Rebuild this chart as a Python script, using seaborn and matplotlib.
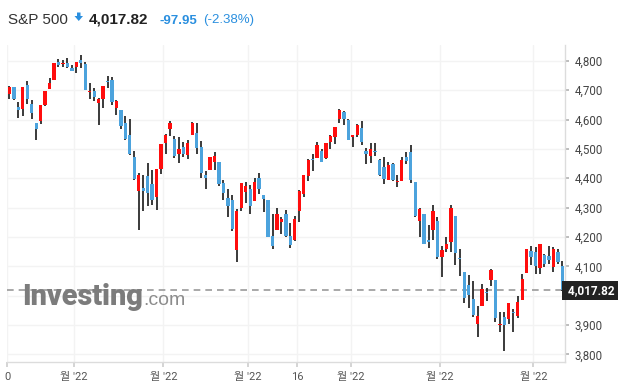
import seaborn as sns
import matplotlib.pyplot as plt
import matplotlib.transforms as mtransforms
from matplotlib.patches import Polygon
import pandas as pd

# S&P 500 daily candles, Dec 10 2021 - Jun 9 2022
holidays = ["2021-12-24", "2022-01-17", "2022-02-21", "2022-04-15", "2022-05-30"]
dates = pd.date_range("2021-12-10", "2022-06-09",
                      freq=pd.offsets.CustomBusinessDay(holidays=holidays))

opens = [
    4687.64, 4710.30, 4642.99, 4636.46, 4719.13, 4652.50, 4587.90, 4594.96, 4650.36, 4703.96, 4733.99, 4795.49, 4788.64, 4794.23, 4775.21,
    4778.14, 4804.51, 4787.99, 4693.39, 4697.66, 4655.34, 4669.14, 4728.59, 4733.56, 4637.99, 4632.24, 4588.03, 4547.35, 4471.38, 4356.32, 4366.64, 4408.43, 4380.58, 4336.19, 4431.79,
    4519.57, 4566.39, 4535.41, 4482.79, 4505.75, 4480.02, 4547.00, 4553.24, 4506.27, 4412.61, 4429.28, 4455.75, 4456.06, 4384.57, 4332.74, 4324.93, 4155.77, 4298.38, 4354.17,
    4363.14, 4322.56, 4401.31, 4342.12, 4327.01, 4202.66, 4223.10, 4252.55, 4279.50, 4202.75, 4188.82, 4288.14, 4345.11, 4407.34, 4462.40, 4469.10, 4493.10, 4469.98, 4522.91, 4541.09, 4602.86, 4624.20, 4599.02,
    4540.32, 4547.97, 4572.45, 4494.17, 4474.65, 4494.15, 4462.64, 4437.59, 4394.30, 4449.12, 4385.63, 4390.63, 4472.26, 4489.17, 4385.83, 4255.34, 4278.14, 4186.52, 4222.58, 4253.75,
    4130.61, 4159.78, 4181.18, 4270.43, 4128.17, 4081.27, 4035.18, 3990.08, 3903.95, 3963.90, 4013.02, 4052.00, 4051.98, 3899.00, 3927.76, 3919.42, 3942.94, 3929.59, 3984.60, 4077.43, 4151.09,
    4149.78, 4095.41, 4137.57, 4134.72, 4096.47, 4147.12, 4101.65,
]
highs = [
    4713.57, 4710.30, 4660.47, 4712.60, 4731.99, 4666.70, 4587.90, 4651.14, 4697.67, 4740.74, 4791.49, 4807.02, 4804.06, 4808.93, 4786.83,
    4796.64, 4818.62, 4797.70, 4725.01, 4707.95, 4673.02, 4714.13, 4748.83, 4744.13, 4665.13, 4632.24, 4611.55, 4602.11, 4494.52, 4417.35, 4411.01, 4453.23, 4428.74, 4432.72, 4516.89,
    4550.49, 4595.31, 4542.88, 4539.66, 4521.86, 4531.32, 4590.03, 4588.92, 4526.33, 4426.22, 4472.77, 4489.55, 4456.06, 4394.60, 4362.12, 4341.51, 4294.73, 4385.34, 4388.84,
    4378.45, 4401.48, 4416.78, 4342.12, 4327.01, 4276.94, 4299.40, 4268.28, 4291.01, 4247.57, 4271.05, 4358.90, 4412.67, 4465.40, 4481.75, 4522.00, 4501.07, 4520.58, 4546.03, 4575.65, 4637.30, 4627.77, 4603.07,
    4548.70, 4583.50, 4593.45, 4503.94, 4521.16, 4520.41, 4464.35, 4471.00, 4453.92, 4452.81, 4410.31, 4471.03, 4488.29, 4512.94, 4385.83, 4299.02, 4278.14, 4240.71, 4308.45, 4269.68,
    4169.81, 4200.10, 4307.66, 4270.43, 4157.69, 4081.27, 4068.82, 4049.09, 3964.80, 4038.88, 4026.97, 4090.72, 4051.98, 3945.96, 3943.42, 3975.02, 3955.68, 3999.33, 4075.14, 4158.49, 4168.34,
    4166.54, 4177.51, 4142.67, 4168.78, 4164.86, 4160.14, 4119.10,
]
lows = [
    4670.24, 4667.60, 4606.52, 4611.22, 4651.89, 4600.22, 4531.10, 4583.16, 4645.53, 4703.96, 4733.99, 4780.04, 4778.08, 4775.33, 4765.75,
    4758.17, 4774.27, 4699.44, 4671.26, 4662.74, 4582.24, 4638.27, 4706.71, 4650.29, 4614.75, 4568.70, 4530.20, 4477.95, 4395.34, 4222.62, 4287.11, 4304.80, 4309.50, 4292.46, 4414.02,
    4483.53, 4544.32, 4470.39, 4451.50, 4471.47, 4465.40, 4547.00, 4484.31, 4401.41, 4364.84, 4429.28, 4429.68, 4373.81, 4327.22, 4267.11, 4221.51, 4114.65, 4286.83, 4315.12,
    4279.54, 4322.56, 4345.56, 4284.98, 4199.85, 4157.87, 4223.10, 4209.80, 4200.49, 4161.72, 4187.90, 4251.99, 4335.65, 4390.57, 4424.30, 4469.10, 4455.81, 4465.17, 4501.07, 4517.69, 4589.66, 4581.32, 4530.41,
    4507.57, 4539.21, 4514.17, 4450.04, 4450.30, 4474.60, 4408.38, 4381.34, 4392.70, 4390.55, 4370.30, 4390.63, 4448.76, 4384.47, 4267.62, 4200.82, 4175.04, 4162.90, 4188.63, 4124.28,
    4062.51, 4147.08, 4148.91, 4106.01, 4067.91, 3975.48, 3958.17, 3928.82, 3858.87, 3963.90, 3982.24, 4033.93, 3911.91, 3876.58, 3810.32, 3901.82, 3875.13, 3925.03, 3984.60, 4077.43, 4104.88,
    4073.85, 4074.37, 4098.67, 4109.18, 4080.19, 4107.20, 4017.17,
]
closes = [
    4712.02, 4668.97, 4634.09, 4709.85, 4668.67, 4620.64, 4568.02, 4649.23, 4696.56, 4725.79, 4791.19, 4786.35, 4793.06, 4778.73, 4766.18,
    4796.56, 4793.54, 4700.58, 4696.05, 4677.03, 4670.29, 4713.07, 4726.35, 4659.03, 4662.85, 4577.11, 4532.76, 4482.73, 4397.94, 4410.13, 4356.45, 4349.93, 4326.51, 4431.85, 4515.55,
    4546.54, 4589.38, 4477.44, 4500.53, 4483.87, 4521.54, 4587.18, 4504.08, 4418.64, 4401.67, 4471.07, 4475.01, 4380.26, 4348.87, 4304.76, 4225.50, 4288.70, 4384.65, 4373.94,
    4306.26, 4386.54, 4363.49, 4328.87, 4201.09, 4170.70, 4277.88, 4259.52, 4204.31, 4173.11, 4262.45, 4357.86, 4411.67, 4463.12, 4461.18, 4511.61, 4456.24, 4520.16, 4543.06, 4575.52, 4631.60, 4602.45, 4530.41,
    4545.86, 4582.64, 4525.12, 4481.15, 4500.21, 4488.28, 4412.53, 4397.45, 4446.59, 4392.59, 4391.69, 4462.21, 4459.45, 4393.66, 4271.78, 4296.12, 4175.20, 4183.96, 4287.50, 4131.93,
    4155.38, 4175.48, 4300.17, 4146.87, 4123.34, 3991.24, 4001.05, 3935.18, 3930.08, 4023.89, 4008.01, 4088.85, 3923.68, 3900.79, 3901.36, 3973.75, 3941.48, 3978.73, 4057.84, 4158.24, 4132.15,
    4101.23, 4176.82, 4108.54, 4121.43, 4160.68, 4115.77, 4017.82,
]

tick_dates = ["2021-12-10", "2022-01-03", "2022-02-01", "2022-03-01", "2022-03-16",
              "2022-04-01", "2022-05-02", "2022-06-01"]
tick_labels = ["0", "월 '22", "월 '22", "월 '22", "16", "월 '22", "월 '22", "월 '22"]
y_ticks = [3800, 3900, 4000, 4100, 4200, 4300, 4400, 4500, 4600, 4700, 4800]

last_price = "4,017.82"
change = "-97.95"
change_pct = "(-2.38%)"

df = pd.DataFrame({"date": dates, "open": opens, "high": highs, "low": lows, "close": closes})
df["i"] = range(len(df))
df["up"] = df["close"] >= df["open"]

UP = "#ff0d0d"
DOWN = "#4ca3dd"
W, H = 629, 388

sns.set_theme(style="white")
plt.rcParams["font.family"] = ["Roboto", "Noto Sans CJK KR", "DejaVu Sans"]

fig = plt.figure(figsize=(W / 100, H / 100), dpi=100)
ax = fig.add_axes([7 / W, 26 / H, 558 / W, 317 / H])

# wicks then bodies
ax.vlines(df["i"], df["low"], df["high"], color="#2b2b2b", lw=1.3, zorder=2)
body = (df["close"] - df["open"]).abs().clip(lower=4)
bottom = df[["open", "close"]].min(axis=1)
colors = [UP if u else DOWN for u in df["up"]]
ax.bar(df["i"], body, bottom=bottom, width=0.74, color=colors, linewidth=0, zorder=3)

ax.set_xlim(-0.55, 124.6)
ax.set_ylim(3774, 4854)

pos = {d: i for i, d in enumerate(df["date"].dt.strftime("%Y-%m-%d"))}
ax.set_xticks([pos[d] - 0.5 for d in tick_dates])
ax.set_xticklabels(tick_labels)
ax.set_yticks(y_ticks)
# the 4,000 label sits under the last-price box
ax.set_yticklabels(["" if v == 4000 else f"{v:,}" for v in y_ticks])
ax.yaxis.tick_right()
ax.grid(True, color="#f3f3f3", lw=1)
ax.set_axisbelow(True)
ax.tick_params(axis="x", length=3.5, color="#cfcfcf", labelcolor="#555555", labelsize=8, pad=4, bottom=True)
ax.tick_params(axis="y", length=3, color="#b5b5b5", labelcolor="#444444", labelsize=8.3, pad=4, right=True)
for s in ["top", "left"]:
    ax.spines[s].set_visible(False)
for s in ["right", "bottom"]:
    ax.spines[s].set_color("#dcdcdc")
    ax.spines[s].set_linewidth(1)

# last price line and label
ax.axhline(closes[-1], color="#9a9a9a", lw=1.2, ls=(0, (4, 3)), zorder=1)
trans = mtransforms.blended_transform_factory(ax.transAxes, ax.transData)
ax.text(1.0, closes[-1], " " + last_price, transform=trans, ha="left", va="center",
        color="white", fontsize=8.5, fontweight="bold", zorder=10, clip_on=False,
        bbox=dict(boxstyle="square,pad=0.28", fc="#222222", ec="none"))

# watermark
def fx(px):
    return px / W

def fy(py):
    return 1 - py / H

fig.text(fx(22), fy(305), "Investing", fontsize=20.8, fontweight=900, color="#7c7c7c",
         family="Roboto", va="baseline")
fig.text(fx(143), fy(305), ".com", fontsize=14, color="#8c8c8c",
         family="Liberation Sans", va="baseline")

# header
fig.text(fx(8), fy(23.5), "S&P 500", fontsize=11, color="#333333", family="Liberation Sans", va="baseline")
arrow = [(77, 12.5), (80.5, 12.5), (80.5, 16), (83, 16), (78.75, 21), (74.5, 16), (77, 16)]
fig.patches.append(Polygon([(fx(x), fy(y)) for x, y in arrow], closed=True, transform=fig.transFigure,
                           fc="#2a8fdf", ec="none"))
fig.text(fx(89), fy(23.5), last_price, fontsize=11, color="#222222", fontweight="bold",
         family="Liberation Sans", va="baseline")
fig.text(fx(159), fy(23.5), change, fontsize=9.5, color="#2a8fdf", fontweight="bold",
         family="Liberation Sans", va="baseline")
fig.text(fx(203), fy(23.5), change_pct, fontsize=9.5, color="#2a8fdf",
         family="Liberation Sans", va="baseline")

fig.savefig("out.png", dpi=100, facecolor="white")
